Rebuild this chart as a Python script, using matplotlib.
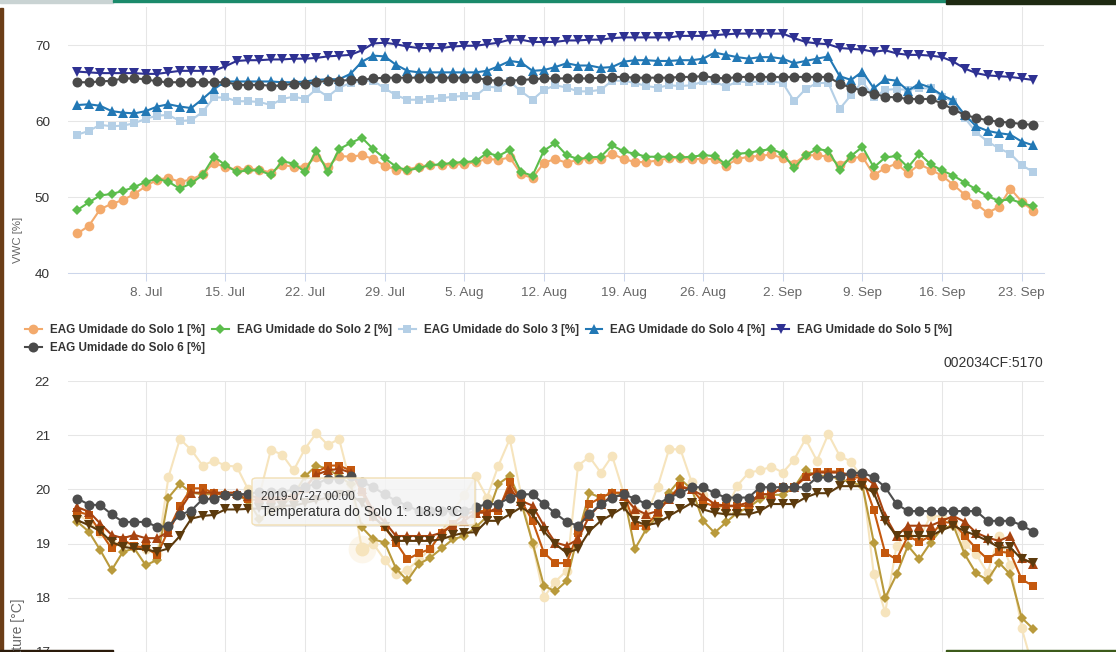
import matplotlib
matplotlib.use("Agg")
import matplotlib.pyplot as plt
import matplotlib.dates as mdates
from matplotlib.patches import FancyBboxPatch, Rectangle
import pandas as pd

W, H = 1116, 652
plt.rcParams['font.family'] = ['Liberation Sans', 'DejaVu Sans']

# --- data (daily values) ---
start_day = "2019-07-02"
n_days = 85
days = pd.date_range(start_day, periods=n_days, freq="D")

vwc_names = ["EAG Umidade do Solo 1 [%]", "EAG Umidade do Solo 2 [%]",
             "EAG Umidade do Solo 3 [%]", "EAG Umidade do Solo 4 [%]",
             "EAG Umidade do Solo 5 [%]", "EAG Umidade do Solo 6 [%]"]

vwc1 = [45.2, 46.2, 48.4, 49.1, 49.6, 50.4, 51.4, 52.3, 52.5, 52.0, 52.3, 53.0, 54.5, 53.9, 53.6, 53.7, 53.6, 53.2,
        54.2, 54.0, 54.0, 55.3, 54.0, 55.4, 55.3, 55.5, 55.0,
        54.1, 53.6, 53.6, 54.0, 54.2, 54.2, 54.3, 54.3, 54.6, 55.0, 54.9, 55.2, 53.0, 52.5, 54.5, 55.0, 54.5, 54.9,
        55.0, 55.0, 55.7, 55.0, 54.6, 54.6, 54.8, 55.1, 55.1, 55.0, 55.0, 55.0, 54.1, 55.0,
        55.3, 55.4, 55.6, 55.1, 54.4, 55.5, 55.5, 55.3, 54.2, 55.1, 55.3, 52.9, 53.8, 54.4, 53.1, 54.3, 53.6, 52.8,
        51.6, 50.3, 49.1, 47.9, 48.7, 51.1, 49.4, 48.2]
vwc2 = [48.3, 49.3, 50.2, 50.4, 50.8, 51.3, 52.0, 52.4, 52.0, 51.1, 51.8, 52.9, 55.3, 54.2, 53.3, 53.5, 53.5, 52.9,
        54.7, 54.4, 53.3, 56.1, 53.3, 56.3, 57.1, 57.8, 56.3,
        55.1, 54.0, 53.5, 53.8, 54.2, 54.3, 54.5, 54.6, 54.7, 55.8, 55.4, 56.2, 53.3, 52.8, 56.1, 57.1, 55.5, 55.0,
        55.2, 55.3, 56.8, 56.0, 55.7, 55.3, 55.3, 55.3, 55.2, 55.3, 55.5, 55.4, 54.3, 55.7,
        55.8, 56.1, 56.3, 55.7, 53.8, 55.5, 56.3, 56.1, 53.6, 55.4, 56.6, 53.9, 55.2, 55.4, 53.9, 55.7, 54.3, 53.5,
        52.8, 51.9, 51.0, 50.1, 49.5, 49.7, 49.2, 48.8]
vwc3 = [58.2, 58.7, 59.5, 59.3, 59.4, 59.7, 60.3, 60.7, 60.8, 60.0, 60.1, 61.2, 63.1, 63.1, 62.6, 62.6, 62.5, 62.1,
        62.9, 63.2, 62.9, 64.2, 63.2, 64.4, 65.0, 65.3, 65.3,
        64.3, 63.4, 62.8, 62.8, 62.9, 63.0, 63.2, 63.3, 63.3, 64.5, 64.4, 65.2, 63.9, 62.8, 64.1, 64.7, 64.4, 63.9,
        63.9, 64.1, 65.3, 65.3, 65.0, 64.6, 64.4, 64.7, 64.6, 64.7, 65.2, 65.2, 64.5, 65.2,
        65.1, 65.2, 65.2, 65.0, 62.6, 64.2, 65.0, 65.0, 61.6, 63.4, 65.2, 63.1, 64.1, 64.2, 64.1, 64.3, 64.3, 63.2,
        62.5, 60.4, 58.5, 57.3, 56.4, 55.7, 54.2, 53.3]
vwc4 = [62.1, 62.2, 62.0, 61.3, 61.1, 61.0, 61.3, 61.9, 62.2, 61.9, 61.7, 62.9, 64.2, 65.2, 65.2, 65.2, 65.2, 65.2,
        65.1, 65.1, 65.2, 65.4, 65.5, 65.5, 66.2, 67.8, 68.6,
        68.5, 67.4, 66.6, 66.4, 66.4, 66.4, 66.4, 66.4, 66.4, 66.6, 67.2, 67.9, 67.7, 66.6, 66.7, 67.1, 67.6, 67.3,
        67.3, 67.0, 67.1, 67.8, 68.0, 68.0, 67.9, 67.9, 68.0, 68.0, 68.2, 69.0, 68.7, 68.4,
        68.2, 68.4, 68.4, 68.2, 67.6, 67.9, 68.2, 68.5, 65.9, 65.4, 66.5, 64.3, 65.5, 65.3, 64.0, 64.9, 64.4, 63.4,
        62.7, 60.8, 59.3, 58.7, 58.4, 58.2, 57.3, 56.8]
vwc5 = [66.5, 66.4, 66.3, 66.3, 66.3, 66.3, 66.2, 66.2, 66.4, 66.6, 66.6, 66.6, 66.6, 67.2, 67.9, 68.0, 68.0, 68.1,
        68.1, 68.2, 68.2, 68.3, 68.5, 68.6, 68.7, 69.3, 70.2,
        70.3, 70.1, 69.8, 69.6, 69.6, 69.6, 69.8, 69.9, 69.9, 70.1, 70.3, 70.7, 70.7, 70.4, 70.4, 70.4, 70.6, 70.6,
        70.7, 70.7, 70.9, 71.0, 71.0, 71.0, 71.0, 71.0, 71.2, 71.2, 71.2, 71.3, 71.4, 71.5,
        71.5, 71.5, 71.5, 71.5, 70.9, 70.4, 70.2, 70.1, 69.6, 69.5, 69.4, 69.1, 69.3, 68.9, 68.7, 68.7, 68.6, 68.4,
        67.8, 66.9, 66.3, 66.0, 65.9, 65.8, 65.6, 65.4]
vwc6 = [65.1, 65.1, 65.2, 65.3, 65.6, 65.6, 65.5, 65.2, 65.1, 65.1, 65.1, 65.1, 65.1, 65.1, 64.8, 64.7, 64.8, 64.6,
        64.7, 64.9, 64.9, 65.1, 65.3, 65.3, 65.4, 65.4, 65.6,
        65.7, 65.7, 65.7, 65.7, 65.7, 65.7, 65.7, 65.7, 65.7, 65.4, 65.3, 65.3, 65.4, 65.5, 65.6, 65.6, 65.6, 65.6,
        65.6, 65.7, 65.8, 65.8, 65.7, 65.7, 65.7, 65.7, 65.8, 65.8, 65.9, 65.7, 65.6, 65.8,
        65.8, 65.8, 65.8, 65.8, 65.8, 65.8, 65.8, 65.8, 64.9, 64.4, 64.0, 63.6, 63.2, 63.1, 62.9, 62.9, 62.9, 62.3,
        61.5, 60.8, 60.4, 60.1, 59.9, 59.8, 59.6, 59.5]

temp1 = [19.55, 19.4, 19.2, 19.0, 19.0, 18.95, 18.9, 18.8,
         20.23, 20.93, 20.73, 20.44, 20.53, 20.44, 20.42, 20.0,
         19.9, 20.73, 20.64, 20.35, 20.75, 21.04, 20.82, 20.93, 20.1,
         18.9, 19.0, 18.7, 18.43, 18.52, 18.7, 18.9, 19.2, 19.6, 19.9,
         20.24, 19.85, 20.44, 20.93, 19.9, 19.0, 18.01, 18.3, 18.5, 20.44, 20.6, 20.31, 20.62, 19.94,
         19.6, 19.5, 20.05, 20.74, 20.74, 20.13, 19.9, 19.7, 19.6, 20.07,
         20.31, 20.35, 20.42, 20.31, 20.55, 20.93, 20.53, 21.02, 20.62, 20.51, 20.2, 18.43, 17.73, 18.96, 19.2,
         19.1, 19.51, 19.5, 19.39, 19.0, 18.8, 18.46, 19.14, 18.6, 17.44, 16.7]
temp2 = [19.4, 19.22, 18.88, 18.51, 18.85, 18.91, 18.6, 18.7, 19.85, 20.1, 19.94, 19.91, 19.91, 19.91, 19.9, 19.79,
         19.45, 19.6, 19.7, 19.9, 20.24, 20.44, 20.38, 20.24, 20.1, 19.3, 19.08, 19.02,
         18.54, 18.32, 18.62, 18.74, 18.91, 19.08, 19.14,
         19.3, 19.5, 20.1, 20.25, 19.76, 19.02, 18.22, 18.12, 18.31, 19.17, 19.93, 19.85, 19.94, 19.91, 18.9, 19.27,
         19.51, 19.94, 20.19, 20.0, 19.42, 19.2, 19.39, 19.57,
         19.67, 19.82, 19.9, 19.9, 20.04, 20.35, 20.25, 20.25, 20.19, 20.13, 20.07, 19.02, 18.0, 18.43, 18.96,
         18.71, 19.02, 19.28, 19.33, 18.8, 18.45, 18.33, 18.65, 18.43, 17.63, 17.43]
temp3 = [19.59, 19.53, 19.22, 18.91, 19.07, 18.95, 18.93, 18.79, 19.25, 19.69, 20.02, 20.02, 19.93, 19.9, 19.9, 19.82,
         19.8, 19.8, 19.8, 19.85, 20.0, 20.31, 20.44, 20.44, 20.35, 19.95, 19.5, 19.3,
         19.02, 18.71, 18.82, 18.9, 19.2, 19.36, 19.54,
         19.6, 19.6, 19.6, 20.13, 19.79, 19.42, 18.83, 18.64, 18.64, 19.2, 19.73, 19.85, 19.94, 19.94, 19.33, 19.33,
         19.57, 19.85, 20.06, 20.0, 19.76, 19.69, 19.69, 19.69,
         19.7, 19.91, 19.91, 20.04, 20.04, 20.22, 20.33, 20.33, 20.33, 20.22, 20.22, 19.62, 18.83, 18.71, 19.14,
         19.03, 19.14, 19.4, 19.38, 19.14, 18.91, 18.71, 18.85, 18.83, 18.34, 18.22]
temp4 = [19.67, 19.59, 19.37, 19.16, 19.1, 19.16, 19.1, 19.1, 19.22, 19.62, 19.94, 19.94, 19.94, 19.94, 19.94, 19.88,
         19.85, 19.85, 19.85, 19.9, 20.05, 20.27, 20.35, 20.38, 20.31, 20.0, 19.6, 19.4,
         19.14, 19.14, 19.14, 19.14, 19.2, 19.33, 19.42,
         19.57, 19.57, 19.67, 20.0, 19.79, 19.7, 19.33, 19.02, 18.96, 19.08, 19.51, 19.73, 19.88, 19.88, 19.64, 19.54,
         19.6, 19.82, 20.04, 20.0, 19.88, 19.73, 19.7, 19.7,
         19.76, 19.91, 19.91, 20.04, 20.04, 20.25, 20.31, 20.31, 20.31, 20.27, 20.25, 20.1, 19.51, 19.14, 19.33,
         19.33, 19.33, 19.42, 19.51, 19.4, 19.2, 19.11, 19.05, 19.14, 18.74, 18.62]
temp5 = [19.43, 19.34, 19.23, 19.03, 18.94, 18.91, 18.89, 18.85, 18.91, 19.14, 19.46, 19.51, 19.53, 19.63, 19.63, 19.64,
         19.65, 19.65, 19.7, 19.7, 19.75, 19.8, 19.85, 19.9, 19.9, 19.75, 19.5, 19.3,
         19.05, 19.05, 19.05, 19.05, 19.08, 19.15, 19.2,
         19.21, 19.42, 19.42, 19.54, 19.67, 19.54, 19.23, 18.99, 18.83, 18.9, 19.23, 19.42, 19.54, 19.67, 19.42, 19.34,
         19.38, 19.51, 19.63, 19.75, 19.63, 19.57, 19.54, 19.54,
         19.54, 19.6, 19.73, 19.73, 19.73, 19.85, 19.93, 19.93, 20.06, 20.06, 20.06, 19.94, 19.42, 19.14, 19.14,
         19.14, 19.14, 19.25, 19.33, 19.23, 19.15, 19.05, 18.93, 18.93, 18.71, 18.65]
temp6 = [19.83, 19.72, 19.71, 19.54, 19.4, 19.4, 19.4, 19.31, 19.32, 19.53, 19.61, 19.82, 19.83, 19.9, 19.9, 19.92,
         19.95, 19.95, 19.95, 20.0, 20.05, 20.1, 20.2, 20.2, 20.24, 20.14, 20.04, 19.91, 19.79,
         19.7, 19.6, 19.6, 19.6, 19.6, 19.6,
         19.67, 19.73, 19.73, 19.85, 19.91, 19.91, 19.73, 19.56, 19.4, 19.33, 19.54, 19.73, 19.85, 19.91, 19.83, 19.73,
         19.73, 19.85, 19.93, 20.04, 20.04, 19.93, 19.85, 19.85,
         19.85, 20.04, 20.04, 20.04, 20.04, 20.04, 20.22, 20.22, 20.24, 20.3, 20.31, 20.22, 20.04, 19.73, 19.6,
         19.6, 19.6, 19.6, 19.6, 19.6, 19.6, 19.42, 19.42, 19.42, 19.34, 19.22]

hover_index = 25          # 2019-07-27, the point under the tooltip
hover_name = "Temperatura do Solo 1"
device_id = "002034CF:5170"

vwc_colors = ['#f3aa6c', '#5cbd4c', '#b4cfe6', '#2278b5', '#2e3192', '#4a4a4a']
temp_colors = ['#f6e4bd', '#b99a3c', '#c4580e', '#a8430f', '#5c3a0d', '#4d4d4d']
markers = ['o', 'D', 's', '^', 'v', 'o']
msizes = [7, 5.2, 6.2, 6.6, 6.6, 7.2]


def fx(px):
    return px / W


def fy(py):
    return 1 - py / H


def day_label(x, pos):
    d = mdates.num2date(x)
    return f"{d.day}. {d.strftime('%b')}"


fig = plt.figure(figsize=(W / 100, H / 100), dpi=100)
fig.patch.set_facecolor('white')

ax1 = fig.add_axes([fx(68), fy(273), (1043.5 - 68) / W, (273 - 7) / H])
ax2 = fig.add_axes([fx(68), fy(706.2), (1043.5 - 68) / W, (706.2 - 381) / H])

x_lo = days[0] - pd.Timedelta(hours=20)
x_hi = days[-1] + pd.Timedelta(hours=22)

# --- top chart: VWC ---
handles = []
for vals, c, m, ms in zip([vwc1, vwc2, vwc3, vwc4, vwc5, vwc6], vwc_colors, markers, msizes):
    ln, = ax1.plot(days, vals, color=c, lw=1.5, marker=m, ms=ms, mew=0)
    handles.append(ln)
ax1.set_ylim(40, 75)
ax1.set_yticks([40, 50, 60, 70])

# --- bottom chart: soil temperature ---
for vals, c, m, ms in zip([temp1, temp2, temp3, temp4, temp5, temp6], temp_colors, markers, msizes):
    ax2.plot(days, vals, color=c, lw=1.5, marker=m, ms=ms, mew=0)
# hovered point with halo
ax2.plot(days[hover_index], temp1[hover_index], 'o', ms=20, color=temp_colors[0], alpha=0.3, mew=0)
ax2.plot(days[hover_index], temp1[hover_index], 'o', ms=10, color=temp_colors[0], mew=0)
ax2.set_ylim(16, 22)
ax2.set_yticks(range(16, 23))

for ax in (ax1, ax2):
    ax.set_xlim(x_lo, x_hi)
    ax.xaxis.set_major_locator(mdates.WeekdayLocator(byweekday=mdates.MO))
    ax.xaxis.set_major_formatter(plt.FuncFormatter(day_label))
    ax.grid(True, color='#e6e6e6', lw=0.75)
    ax.set_axisbelow(True)
    for s in ax.spines.values():
        s.set_visible(False)
    ax.tick_params(axis='y', length=0, pad=13, labelsize=9.7, labelcolor='#333333')

ax1.spines['bottom'].set_visible(True)
ax1.spines['bottom'].set_color('#ccd6eb')
ax1.spines['bottom'].set_linewidth(0.75)
ax1.tick_params(axis='x', length=5.8, width=0.75, color='#ccd6eb', pad=4,
                labelsize=9.7, labelcolor='#666666')
ax2.tick_params(axis='x', length=0, labelbottom=False)

fig.text(fx(18), fy(240), "VWC [%]", rotation=90, ha='center', va='center',
         fontsize=8.2, color='#666666')
# the screenshot cuts this title off at the bottom edge, as here
fig.text(fx(18), fy(599), "Temperature [°C]", rotation=90, ha='center', va='top',
         fontsize=10, color='#666666')

# --- legend of the VWC chart (two rows) ---
leg_kw = dict(frameon=False, prop=dict(weight='bold', size=8.4), handlelength=1.45,
              handletextpad=0.68, columnspacing=0.6, borderpad=0, borderaxespad=0,
              numpoints=1, loc='center left')
leg1 = fig.legend(handles[:5], vwc_names[:5], ncol=5, bbox_to_anchor=(fx(25), fy(330)), **leg_kw)
leg2 = fig.legend(handles[5:], vwc_names[5:], ncol=1, bbox_to_anchor=(fx(25), fy(348)), **leg_kw)
for lg in (leg1, leg2):
    for t in lg.get_texts():
        t.set_color('#333333')

fig.text(fx(1043), fy(363), device_id, ha='right', va='center', fontsize=10, color='#333333')

# --- tooltip ---
tx0, ty0, tx1, ty1 = 252, 478, 475, 525
fig.add_artist(FancyBboxPatch((fx(tx0 + 1.5), fy(ty1 + 2)), (tx1 - tx0) / W, (ty1 - ty0) / H,
                              boxstyle='round,pad=0,rounding_size=0.004', fc='#000000', alpha=0.08,
                              ec='none', transform=fig.transFigure))
fig.add_artist(FancyBboxPatch((fx(tx0), fy(ty1)), (tx1 - tx0) / W, (ty1 - ty0) / H,
                              boxstyle='round,pad=0,rounding_size=0.004', fc=(0.97, 0.97, 0.97, 0.86),
                              ec='#f2dfb4', lw=1, transform=fig.transFigure))
fig.text(fx(261), fy(496.5), days[hover_index].strftime('%Y-%m-%d %H:%M'), ha='left', va='center',
         fontsize=8.6, color='#333333')
fig.text(fx(261), fy(512), f"{hover_name}:  {temp1[hover_index]:.1f} °C", ha='left', va='center',
         fontsize=10.1, color='#333333')

# --- bits of the surrounding page caught in the screenshot ---
fig.add_artist(Rectangle((0, fy(3)), fx(113), 3 / H, color='#c9d3d3', transform=fig.transFigure))
fig.add_artist(Rectangle((fx(113), fy(2)), fx(946 - 113), 2 / H, color='#1b8a6b', transform=fig.transFigure))
fig.add_artist(Rectangle((fx(946), fy(4)), fx(170), 4 / H, color='#1e2a12', transform=fig.transFigure))
fig.add_artist(Rectangle((0, 0), fx(2.5), fy(8), color='#6b3d17', transform=fig.transFigure))
fig.add_artist(Rectangle((0, 0), fx(113), 2 / H, color='#2a1a0a', transform=fig.transFigure))
fig.add_artist(Rectangle((fx(946), 0), fx(170), 2 / H, color='#3c5a1a', transform=fig.transFigure))

fig.savefig("out.png", dpi=100)
